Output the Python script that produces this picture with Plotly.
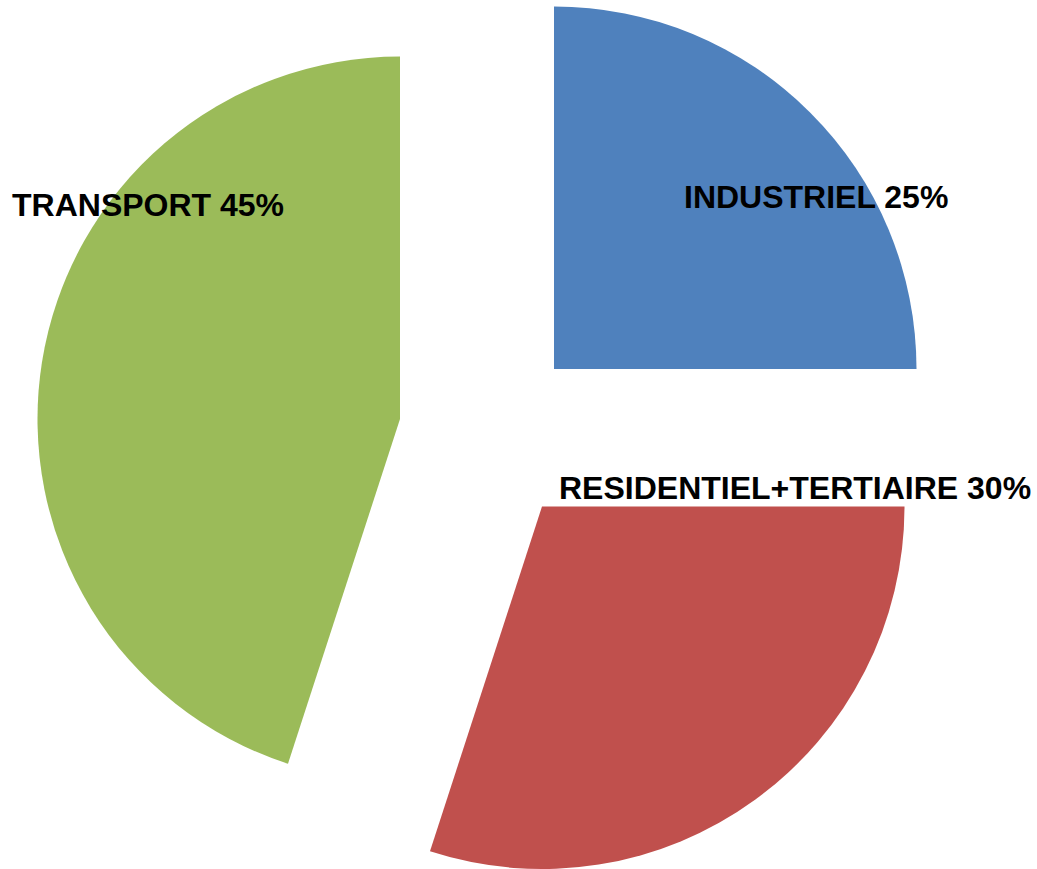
import plotly.graph_objects as go

categories = ["INDUSTRIEL", "RESIDENTIEL+TERTIAIRE", "TRANSPORT"]
values = [25, 30, 45]
colors = ["#4F81BD", "#C0504D", "#9BBB59"]

W, H = 1037, 869
R = 362.5
# pixel centre of each exploded slice
centres = [(554, 369), (542, 506.5), (400, 419)]
# label pixel centres
label_pos = [(816, 197), (795, 488), (148, 205)]

fig = go.Figure()
for i, (cx, cy) in enumerate(centres):
    cols = [colors[j] if j == i else "rgba(0,0,0,0)" for j in range(len(values))]
    y0 = max(0.0, 1 - (cy + R) / H)
    y1 = min(1.0, 1 - (cy - R) / H)
    fig.add_trace(go.Pie(
        labels=categories, values=values, sort=False, direction="clockwise", rotation=0,
        marker=dict(colors=cols, line=dict(width=0)),
        textinfo="none", hoverinfo="label+percent",
        showlegend=False,
        domain=dict(x=[(cx - R) / W, (cx + R) / W], y=[y0, y1]),
    ))

for i, (lx, ly) in enumerate(label_pos):
    fig.add_annotation(
        x=lx / W, y=1 - ly / H, xref="paper", yref="paper",
        text=f"<b>{categories[i]} {values[i]}%</b>", showarrow=False,
        xanchor="center", yanchor="middle",
        font=dict(family="Liberation Sans, Arial", size=32, color="black"),
    )

fig.update_layout(width=W, height=H, margin=dict(l=0, r=0, t=0, b=0),
                  paper_bgcolor="white", plot_bgcolor="white")
fig.write_html("out.html", config={"displayModeBar": False},
               post_script="document.body.style.margin='0';")
